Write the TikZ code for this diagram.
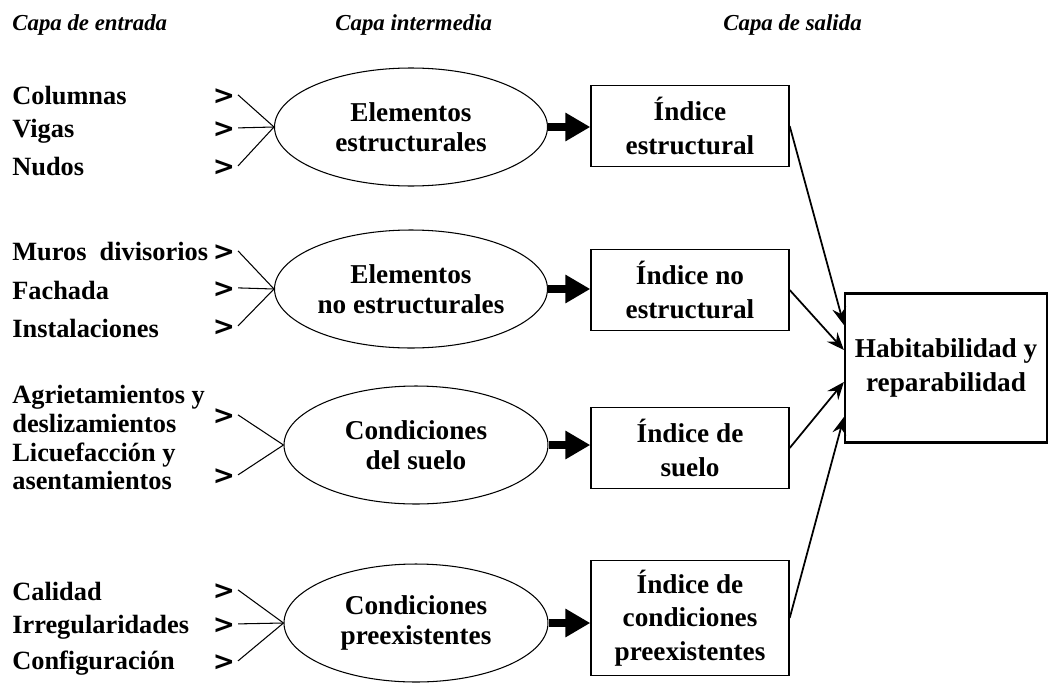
\documentclass[tikz,border=0pt]{standalone}
\usepackage{fontspec}
\setmainfont{Liberation Serif}
\newfontfamily\gtfont{DejaVu Sans}
\usetikzlibrary{shapes.geometric, arrows.meta, positioning, calc}
\tikzset{
  inp/.style={anchor=west, inner sep=0pt, align=left,
    font=\bfseries\fontsize{15}{16}\selectfont},
  gt/.style={inner sep=1.5pt, font=\gtfont\bfseries\fontsize{15}{16}\selectfont},
  capa/.style={anchor=west, inner sep=0pt,
    font=\bfseries\itshape\fontsize{13}{15}\selectfont},
  elip/.style={
    ellipse, draw, line width=0.6pt, minimum width=5.46cm,
    minimum height=2.36cm, inner sep=0pt, align=center,
    font=\bfseries\fontsize{15.5}{17}\selectfont
  },
  idx/.style={
    rectangle, draw, line width=0.8pt, minimum width=3.96cm,
    minimum height=1.62cm, align=center,
    font=\bfseries\fontsize{15.5}{19}\selectfont
  },
  salida/.style={idx, line width=1.3pt, minimum width=4.04cm, minimum height=2.98cm},
  lin/.style={line width=0.6pt},
  garr/.style={-{Triangle[length=0.5cm,width=0.54cm]}, line width=4.2pt},
  arr/.style={-{Stealth[length=10pt,width=8pt,inset=3.5pt]}, line width=1pt}
}
\begin{document}
\begin{tikzpicture}[x=0.02cm, y=-0.02cm]
  \useasboundingbox (0,0) rectangle (1050,686);

  %% ── Encabezados ──────────────────────────────────────────
  \node[capa] (h1) at (12,25)  {Capa de entrada};
  \node[capa] (h2) at (335,25) {Capa intermedia};
  \node[capa] (h3) at (723,25) {Capa de salida};

  %% ── Capa intermedia ──────────────────────────────────────
  \node[elip] (e1) at (411,127) {Elementos\\estructurales};
  \node[elip] (e2) at (411,289) {Elementos\\no estructurales};
  \node[elip, minimum width=5.28cm] (e3) at (416,445) {Condiciones\\del suelo};
  \node[elip, minimum width=5.28cm] (e4) at (416,623) {Condiciones\\preexistentes};

  %% ── Capa de entrada ──────────────────────────────────────
  \foreach \t/\y/\n in {Columnas/96/a1, Vigas/131/a2, Nudos/167/a3,
      Fachada/290/b2, Instalaciones/328/b3,
      Calidad/591/d1, Irregularidades/627/d2, Configuración/663/d3}
    \node[inp] (i\n) at (12,\y) {\t};
  \node[inp] (ib1) at (12,252) {Muros\ \ divisorios};
  \node[inp] (ic1) at (12,409) {Agrietamientos y\\deslizamientos};
  \node[inp] (ic2) at (12,466) {Licuefacción y\\asentamientos};

  \foreach \n/\y/\e in {a1/97/e1, a2/130/e1, a3/168/e1,
      b1/253/e2, b2/290/e2, b3/328/e2, c1/417/e3, c2/477/e3,
      d1/592/e4, d2/626/e4, d3/663/e4} {
    \node[gt] (g\n) at (224,\y) {>};
    \draw[lin] ([yshift=1.2pt]g\n.east) -- (\e.west);
  }

  %% ── Capa de salida ───────────────────────────────────────
  \node[idx] (x1) at (690,126) {Índice\\estructural};
  \node[idx] (x2) at (690,290) {Índice no\\estructural};
  \node[idx] (x3) at (690,448) {Índice de\\suelo};
  \node[idx, minimum height=2.3cm] (x4) at (690,618)
       {Índice de\\condiciones\\preexistentes};
  \node[salida] (out) at (946,368) {Habitabilidad y\\reparabilidad};

  \foreach \a/\b in {e1/x1, e2/x2, e3/x3, e4/x4}
    \draw[garr] (\a.east) -- (\a.east -| \b.west);

  \foreach \b/\dy in {x1/-43, x2/-18, x3/14, x4/49}
    \draw[arr] (\b.east) -- ($(out.west)+(0,\dy)$);

\end{tikzpicture}
\end{document}
